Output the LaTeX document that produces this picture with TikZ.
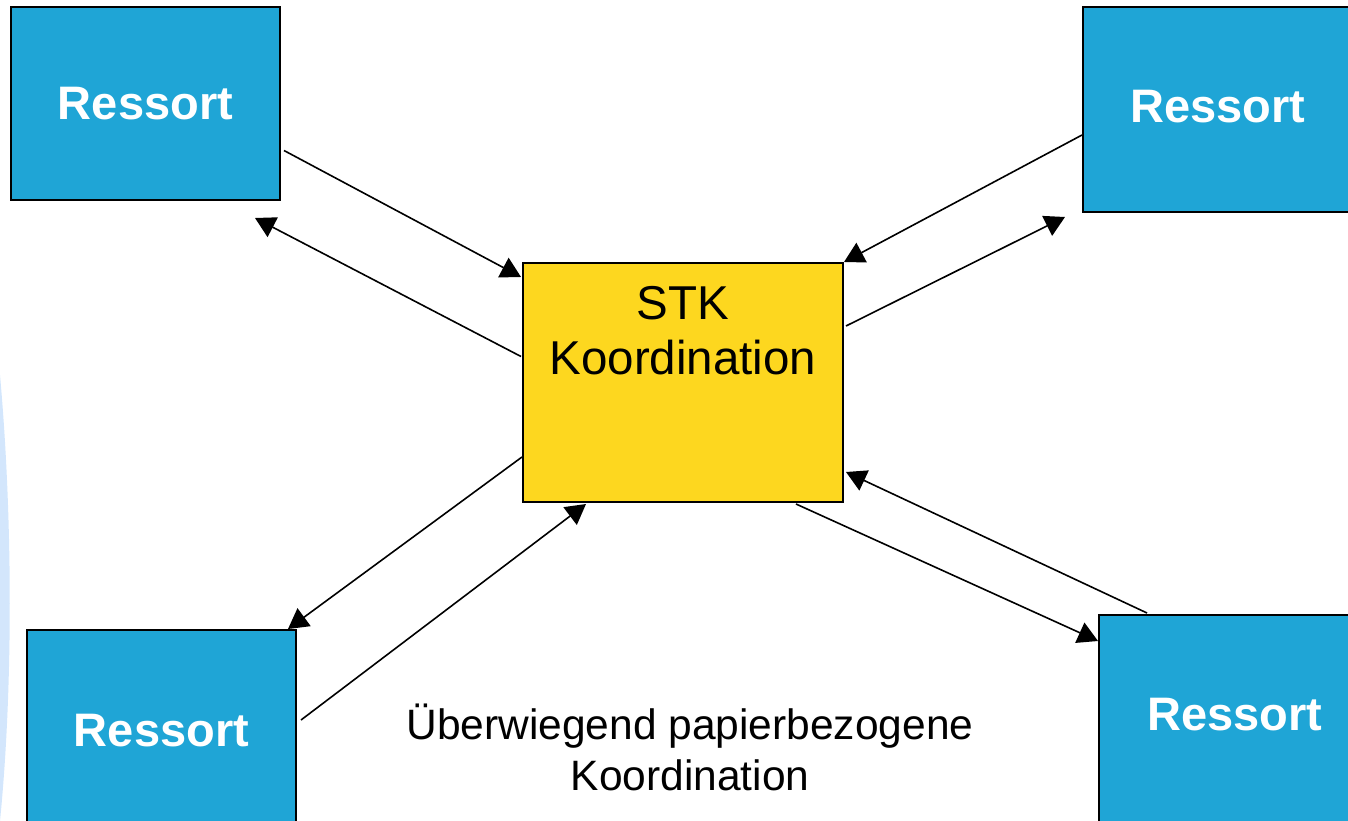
\documentclass[tikz,border=0pt]{standalone}
\usepackage{fontspec}
\setmainfont{Liberation Sans}
\usetikzlibrary{arrows.meta,positioning}
\definecolor{ressortblue}{HTML}{1FA5D6}
\definecolor{stkyellow}{HTML}{FDD71F}
\definecolor{sidebg}{HTML}{D3E6FC}
\tikzset{
    ressort/.style={draw=black, line width=2pt, fill=ressortblue, text=white,
        inner sep=0pt, font=\fontsize{47}{56}\selectfont\bfseries},
    stkbox/.style={draw=black, line width=2pt, fill=stkyellow, inner sep=0pt},
    flow/.style={line width=1.6pt, -{Triangle[length=20pt,width=22pt]}}
}
\begin{document}
\begin{tikzpicture}[x=1pt, y=-1pt]
    \useasboundingbox (0,0) rectangle (1348,821);
    \clip (0,0) rectangle (1348,821);
    \fill[sidebg] (0,375) .. controls (13,520) and (13,690) .. (0,821) -- cycle;
    \node[ressort, minimum width=269pt, minimum height=193pt] (tl) at (145.5,103.5) {Ressort};
    \node[ressort, minimum width=270pt, minimum height=205pt, text depth=6pt] (tr) at (1218,109.5) {Ressort};
    \node[ressort, minimum width=269pt, minimum height=220pt, text depth=20pt] (bl) at (161.5,740) {Ressort};
    \node[ressort, minimum width=272pt, minimum height=230pt, text depth=32pt] (br) at (1235,730) {Ressort};
    \node[stkbox, minimum width=320pt, minimum height=239pt] (stk) at (683,382.5) {};
    \node[below=24pt of stk.north, align=center, inner sep=0pt,
        font=\fontsize{47.5}{55}\selectfont] (stktext) {STK\\Koordination};
    \node[align=center, font=\fontsize{42.5}{51}\selectfont] (note) at (690,747)
        {Überwiegend papierbezogene\\Koordination};
    \draw[flow] ([shift={(3,47)}]tl.east) -- ([shift={(-1,15)}]stk.north west);
    \draw[flow] ([shift={(-1,-26)}]stk.west) -- ([shift={(-26,17)}]tl.south east);
    \draw[flow] ([shift={(0,25.5)}]tr.west) -- (stk.north east);
    \draw[flow] ([shift={(2,-56.5)}]stk.east) -- ([shift={(-17,4)}]tr.south west);
    \draw[flow] ([shift={(0,74.5)}]stk.west) -- ([shift={(-9,0)}]bl.north east);
    \draw[flow] ([shift={(4,-20)}]bl.east) -- ([shift={(64,1)}]stk.south west);
    \draw[flow] ([shift={(-48,1)}]stk.south east) -- ([shift={(0,27)}]br.north west);
    \draw[flow] ([shift={(49,-1)}]br.north west) -- ([shift={(2,89.5)}]stk.east);
\end{tikzpicture}
\end{document}
